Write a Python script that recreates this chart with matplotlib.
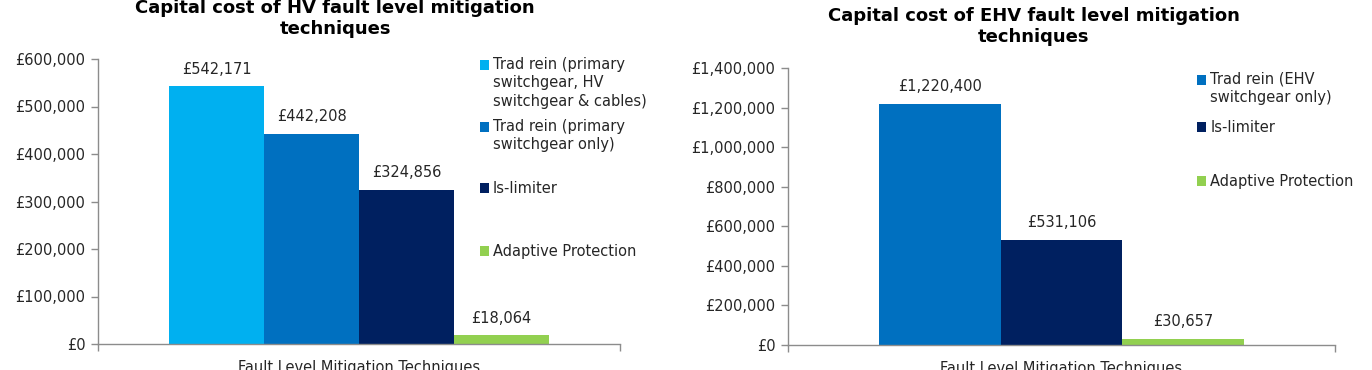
import matplotlib
matplotlib.use("Agg")
import matplotlib.pyplot as plt
from matplotlib.patches import Rectangle
from matplotlib.legend_handler import HandlerPatch
from matplotlib.ticker import FuncFormatter, MultipleLocator

plt.rcParams['font.family'] = ['DejaVu Sans']

# ---------------- data ----------------
category = "Fault Level Mitigation Techniques"

hv_title = "Capital cost of HV fault level mitigation\ntechniques"
hv_series = ["Trad rein (primary\nswitchgear, HV\nswitchgear & cables)",
             "Trad rein (primary\nswitchgear only)",
             "Is-limiter",
             "Adaptive Protection"]
hv_values = [542171, 442208, 324856, 18064]
hv_colors = ["#00B0F0", "#0070C0", "#002060", "#92D050"]
hv_ymax, hv_ystep = 600000, 100000

ehv_title = "Capital cost of EHV fault level mitigation\ntechniques"
ehv_series = ["Trad rein (EHV\nswitchgear only)",
              "Is-limiter",
              "Adaptive Protection"]
ehv_values = [1220400, 531106, 30657]
ehv_colors = ["#0070C0", "#002060", "#92D050"]
ehv_ymax, ehv_ystep = 1400000, 200000

# ---------------- style ----------------
W, H = 1372, 370
FS = 10.5
LS = 1.28
TXT = "#262626"
AX = "#8C8C8C"
GAP = 1.5  # Excel gap width (150%)

fig = plt.figure(figsize=(W / 100, H / 100), dpi=100)


class TopHandler(HandlerPatch):
    """Square aligned with the first line of a wrapped label (Excel style)."""
    def __init__(self, nlines, **kw):
        super().__init__(**kw)
        self.nlines = nlines

    def create_artists(self, legend, orig_handle, xdescent, ydescent,
                       width, height, fontsize, trans):
        shift = (self.nlines - 1) / 2 * LS * fontsize
        p = Rectangle(xy=(-xdescent, -ydescent + shift), width=width, height=height,
                      facecolor=orig_handle.get_facecolor(), linewidth=0)
        p.set_transform(trans)
        return [p]


def money(v, pos=None):
    return "£{:,.0f}".format(v)


def draw(ax_rect, title, title_xy, series, values, colors, ymax, ystep,
         leg_x, leg_tops):
    ax = fig.add_axes(ax_rect)
    n = len(values)
    w = 1.0 / (n + GAP)
    bars = []
    for i, (lab, v, c) in enumerate(zip(series, values, colors)):
        x = (i - (n - 1) / 2) * w
        bc = ax.bar(x, v, width=w, color=c, label=lab, linewidth=0)
        bars.append(bc.patches[0])
        ax.annotate(money(v), (x, v), xytext=(0, 7), textcoords="offset points",
                    ha="center", va="bottom", fontsize=FS, color=TXT)
    ax.set_xlim(-0.5, 0.5)
    ax.set_ylim(0, ymax)
    ax.yaxis.set_major_locator(MultipleLocator(ystep))
    ax.yaxis.set_major_formatter(FuncFormatter(money))
    ax.set_xticks([-0.5, 0.5])
    ax.set_xticklabels(["", ""])
    ax.tick_params(axis="both", direction="out", length=5, width=1, color=AX,
                   labelsize=FS, labelcolor=TXT)
    ax.tick_params(axis="y", pad=4)
    for s in ("top", "right"):
        ax.spines[s].set_visible(False)
    for s in ("left", "bottom"):
        ax.spines[s].set_color(AX)
        ax.spines[s].set_linewidth(1)
    ax.set_xlabel(category, fontsize=FS, color=TXT, labelpad=3)
    fig.text(title_xy[0] / W, 1 - title_xy[1] / H, title, ha="center", va="center",
             fontsize=13, fontweight="bold", color="black", linespacing=1.25)
    # legend: one entry each, positioned like Excel's
    for hnd, lab, top in zip(bars, series, leg_tops):
        nl = lab.count("\n") + 1
        leg = fig.legend([hnd], [lab], loc="upper left",
                         bbox_to_anchor=(leg_x / W, 1 - top / H),
                         frameon=False, fontsize=FS, borderpad=0, borderaxespad=0,
                         handlelength=0.65, handleheight=0.65, handletextpad=0.25,
                         labelcolor=TXT,
                         handler_map={hnd: TopHandler(nl)})
        for t in leg.get_texts():
            t.set_linespacing(LS)
    return ax


draw([98 / W, 1 - 344 / H, (620 - 98) / W, (344 - 59) / H],
     hv_title, (335, 18.5), hv_series, hv_values, hv_colors, hv_ymax, hv_ystep,
     480, [57, 119, 181, 244])

draw([788 / W, 1 - 345 / H, (1335 - 788) / W, (345 - 68) / H],
     ehv_title, (1034, 26.5), ehv_series, ehv_values, ehv_colors, ehv_ymax, ehv_ystep,
     1197, [72, 120, 174])

fig.savefig("out.png", dpi=100)
